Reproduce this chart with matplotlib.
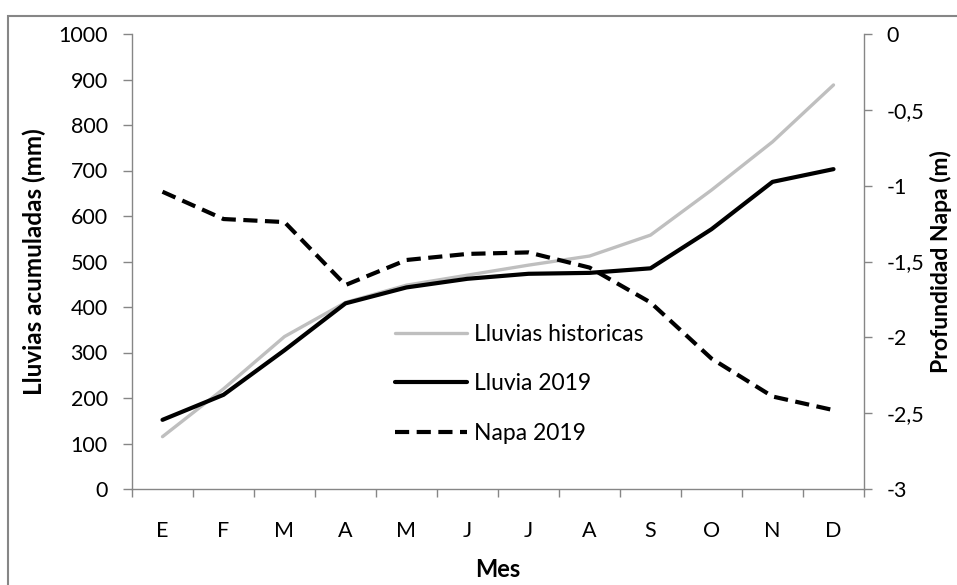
import matplotlib
matplotlib.use('Agg')
import matplotlib.pyplot as plt
from matplotlib.patches import Rectangle
from matplotlib.ticker import FuncFormatter

plt.rcParams['font.family'] = ['Lato', 'DejaVu Sans']
plt.rcParams['font.size'] = 15.5

# data
meses = ['E', 'F', 'M', 'A', 'M', 'J', 'J', 'A', 'S', 'O', 'N', 'D']
lluvias_historicas = [115, 220, 335, 410, 448, 470, 492, 512, 558, 657, 763, 888]
lluvia_2019 = [152, 207, 305, 408, 443, 462, 473, 475, 485, 571, 675, 703]
napa_2019 = [-1.04, -1.22, -1.24, -1.655, -1.49, -1.45, -1.44, -1.54, -1.77, -2.14, -2.39, -2.48]

GRAY_AX = '#868686'
W, H = 957, 585

fig = plt.figure(figsize=(W / 100, H / 100), dpi=100)
fig.patch.set_facecolor('white')
# outer chart border (runs off the right/bottom edge like the reference)
fig.patches.append(Rectangle((8 / W, -0.05), 1.1, 1 - 16 / H + 0.05,
                             transform=fig.transFigure, fill=False,
                             edgecolor=GRAY_AX, linewidth=1.5))

ax = fig.add_axes([132 / W, 1 - 489 / H, (864 - 132) / W, (489 - 34) / H])
ax2 = ax.twinx()

x = list(range(len(meses)))
l1, = ax.plot(x, lluvias_historicas, color='#bfbfbf', linewidth=2.4,
              label='Lluvias historicas', solid_capstyle='round')
l2, = ax.plot(x, lluvia_2019, color='black', linewidth=3,
              label='Lluvia 2019', solid_capstyle='round')
l3, = ax2.plot(x, napa_2019, color='black', linewidth=3,
               linestyle=(0, (3.4, 1.8)), label='Napa 2019')

ax.set_xlim(-0.5, len(meses) - 0.5)
ax.set_ylim(0, 1000)
ax.set_yticks(range(0, 1001, 100))
ax2.set_ylim(-3, 0)
ax2.set_yticks([-3, -2.5, -2, -1.5, -1, -0.5, 0])
ax2.yaxis.set_major_formatter(FuncFormatter(
    lambda v, p: ('%g' % v).replace('.', ',')))

# category boundaries as ticks, labels centred in between
ax.set_xticks([i - 0.5 for i in range(len(meses) + 1)])
ax.set_xticklabels([])
ax.set_xticks(x, minor=True)
ax.set_xticklabels(meses, minor=True)
ax.tick_params(axis='x', which='minor', length=0, pad=23)
ax.tick_params(axis='x', which='major', length=6, width=1, color=GRAY_AX, direction='out')
ax.tick_params(axis='y', length=6.5, width=1, color=GRAY_AX, pad=11)
ax2.tick_params(axis='y', length=6, width=1, color=GRAY_AX, pad=10)

for a in (ax, ax2):
    for s in a.spines.values():
        s.set_visible(False)
ax.spines['left'].set_visible(True)
ax.spines['bottom'].set_visible(True)
ax2.spines['right'].set_visible(True)
for s in (ax.spines['left'], ax.spines['bottom'], ax2.spines['right']):
    s.set_color(GRAY_AX)
    s.set_linewidth(1)

ax.set_xlabel('Mes', fontweight='bold', fontsize=17, labelpad=12)
ax.set_ylabel('Lluvias acumuladas (mm)', fontweight='bold', fontsize=17.5, labelpad=9)
ax2.set_ylabel('Profundidad Napa (m)', fontweight='bold', fontsize=16.5, labelpad=4)

ax2.legend(handles=[l1, l2, l3], loc='center left',
           bbox_to_anchor=((395 - 132) / 732, (489 - 384) / 455),
           frameon=False, borderpad=0, handlelength=3.15, handletextpad=0.3,
           labelspacing=1.25, borderaxespad=0, fontsize=16.5)

fig.savefig('out.png', dpi=100, facecolor='white')
